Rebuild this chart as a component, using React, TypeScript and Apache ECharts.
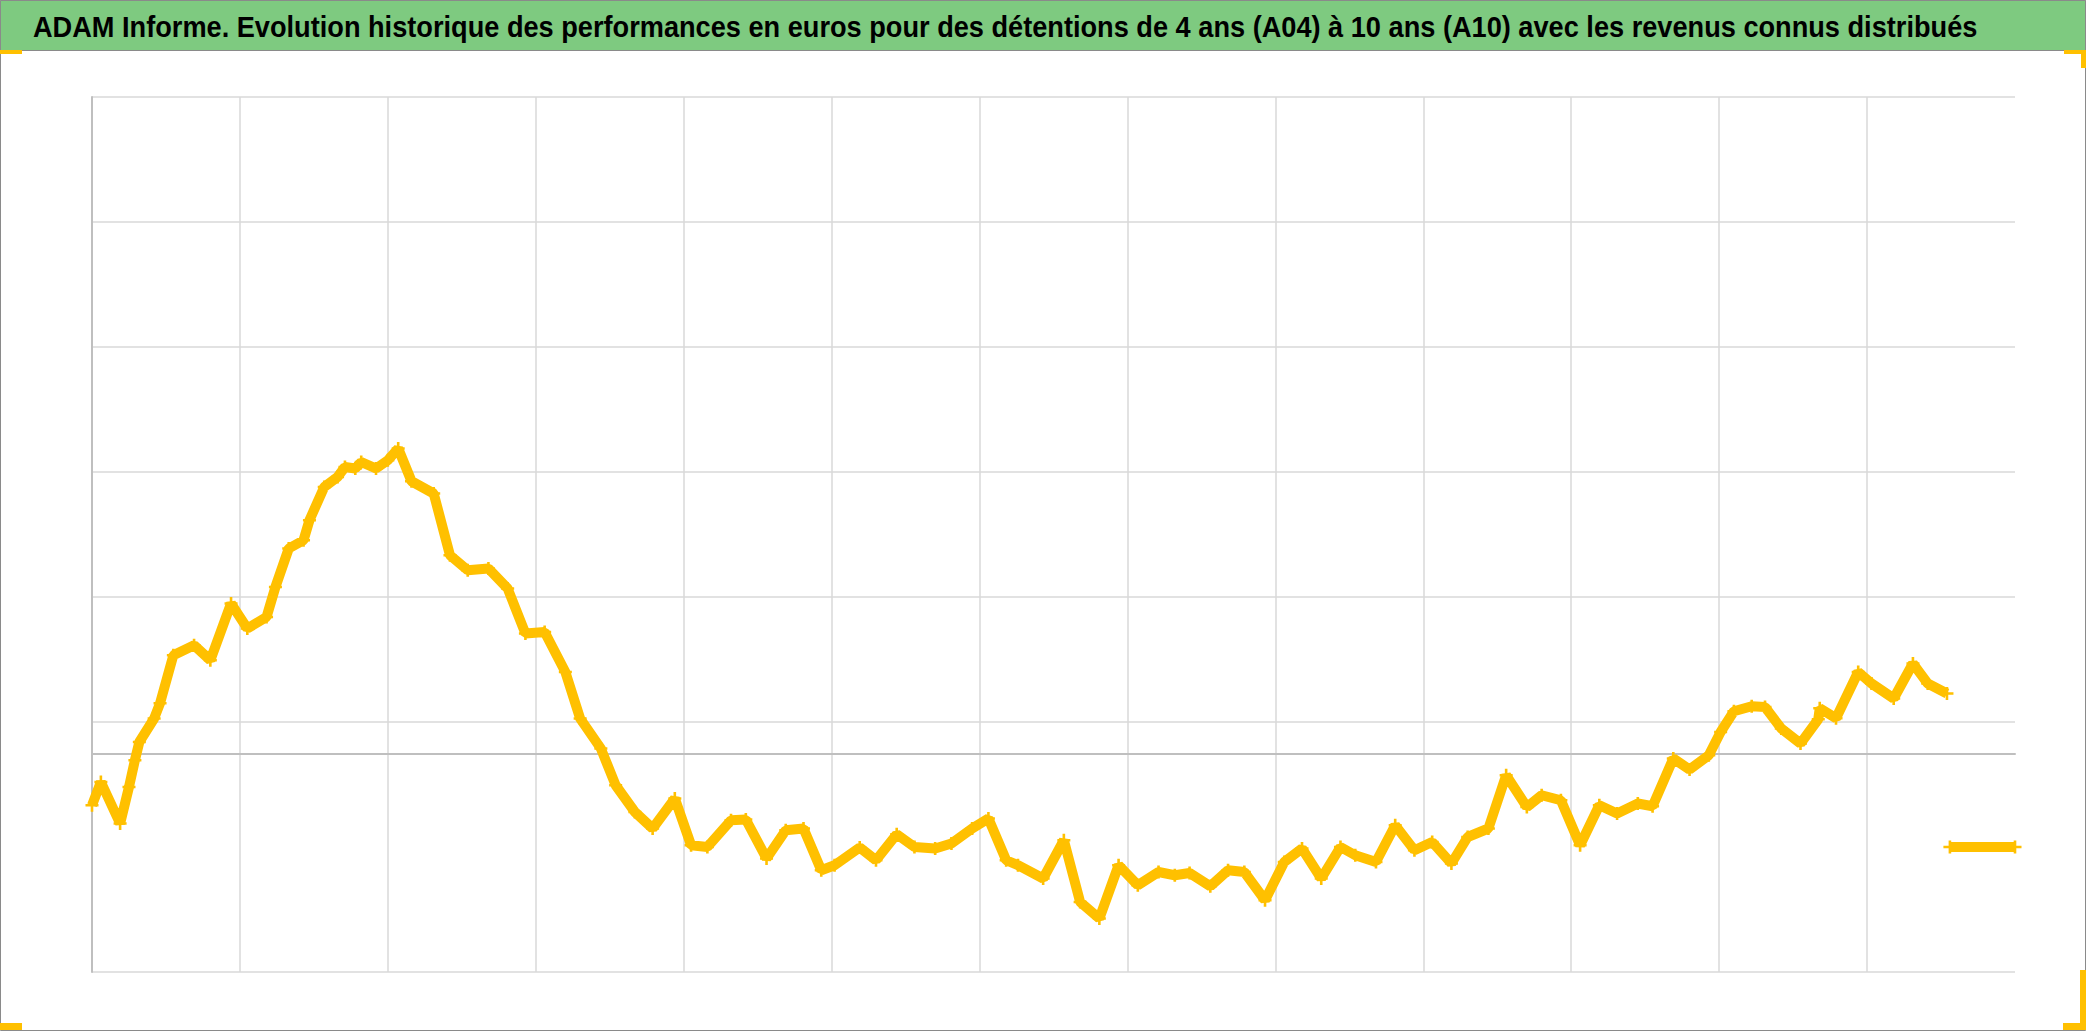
import React, { useEffect, useRef } from "react";
import * as echarts from "echarts";

const TITLE =
  "ADAM Informe. Evolution historique des performances en euros pour des détentions de 4 ans (A04) à 10 ans (A10) avec les revenus connus distribués";

// x position (period index) and performance value of each read point
const periodX = [
  0.0, 0.06, 0.19, 0.25, 0.29, 0.32, 0.42, 0.46, 0.55, 0.69, 0.8, 0.94, 1.05, 1.18, 1.24, 1.33, 1.43, 1.47, 1.57,
  1.66, 1.71, 1.78, 1.82, 1.92, 2.0, 2.07, 2.16, 2.31, 2.42, 2.54, 2.68, 2.81, 2.93, 3.06, 3.2, 3.3, 3.44, 3.54,
  3.67, 3.79, 3.94, 4.05, 4.16, 4.32, 4.42, 4.56, 4.69, 4.81, 4.93, 5.02, 5.19, 5.3, 5.44, 5.56, 5.7, 5.81, 5.95,
  6.06, 6.18, 6.26, 6.43, 6.57, 6.68, 6.81, 6.94, 7.07, 7.21, 7.32, 7.42, 7.56, 7.68, 7.79, 7.93, 8.06, 8.18, 8.31,
  8.44, 8.54, 8.68, 8.81, 8.94, 9.06, 9.19, 9.3, 9.44, 9.56, 9.7, 9.8, 9.93, 10.06, 10.19, 10.31, 10.45, 10.55,
  10.69, 10.8, 10.93, 11.01, 11.1, 11.22, 11.31, 11.42, 11.55, 11.67, 11.68, 11.79, 11.94, 12.03, 12.18, 12.31,
  12.41, 12.54,
];
const perfY = [
  -41.6, -23.0, -56.2, -27.0, -5.6, 9.0, 27.8, 40.0, 78.4, 86.4, 74.4, 119.8, 99.8, 109.0, 133.0, 163.8, 170.4,
  186.4, 213.0, 221.0, 229.0, 227.8, 233.0, 227.8, 234.4, 243.8, 217.6, 207.8, 158.4, 146.4, 147.8, 131.8, 95.8,
  97.0, 65.0, 27.8, 3.8, -25.6, -47.0, -60.2, -36.2, -73.6, -75.0, -53.6, -53.0, -84.2, -61.6, -60.2, -93.6, -89.6,
  -75.4, -85.6, -64.8, -75.0, -76.2, -72.2, -60.2, -52.2, -85.6, -89.6, -100.2, -69.6, -119.0, -132.2, -89.6,
  -105.6, -95.0, -97.6, -95.8, -106.4, -93.6, -95.0, -117.6, -87.0, -76.2, -100.2, -75.0, -81.6, -87.0, -57.6,
  -77.6, -71.0, -88.2, -67.0, -60.2, -17.6, -43.0, -33.6, -37.6, -73.6, -41.6, -48.2, -40.2, -42.4, -4.2, -13.0,
  -1.6, 17.0, 33.6, 37.6, 37.0, 19.8, 7.8, 27.2, 36.0, 28.0, 65.0, 55.8, 43.8, 71.8, 55.8, 47.8,
];

// flat trailing segment
const tailX = [12.56, 13.0];
const tailY = [-75, -75];

// value-axis ticks (no labels shown) and the one tick without a gridline
const yTicks = [-175, -75, 25, 125, 225, 325, 425, 525];
const hiddenGridTicks = [-75];
const xMin = 0;
const xMax = 13;

const GOLD = "#FFC000";
const PLUS = "path://M4,0L6,0L6,4L10,4L10,6L6,6L6,10L4,10L4,6L0,6L0,4L4,4Z";

const TITLE_FONT = 'bold 30px "Liberation Sans", Arial, sans-serif';
const TITLE_WIDTH = 1946;

export default function App() {
  const ref = useRef<HTMLDivElement>(null);

  useEffect(() => {
    document.body.style.margin = "0";
    const chart = echarts.init(ref.current!, undefined, { renderer: "svg" });
    const mainData = periodX.map((x, i) => [x, perfY[i]]);
    const tailData = tailX.map((x, i) => [x, tailY[i]]);
    const gridColors = yTicks.map((t) => (hiddenGridTicks.includes(t) ? "rgba(0,0,0,0)" : "#d9d9d9"));

    let titleScale = 0.8;
    const ctx = document.createElement("canvas").getContext("2d");
    if (ctx) {
      ctx.font = TITLE_FONT;
      const w = ctx.measureText(TITLE).width;
      if (w > 0) titleScale = TITLE_WIDTH / w;
    }

    const seriesStyle = {
      type: "line" as const,
      symbol: PLUS,
      symbolSize: 13,
      showAllSymbol: true,
      itemStyle: { color: GOLD },
      lineStyle: { color: GOLD, width: 10 },
      emphasis: { disabled: true },
      z: 3,
    };

    chart.setOption({
      animation: false,
      backgroundColor: "#ffffff",
      graphic: [
        {
          type: "rect",
          z: -10,
          shape: { x: 0.5, y: 0.5, width: 2085, height: 1030 },
          style: { fill: "#ffffff", stroke: "#8a8a8a", lineWidth: 1 },
        },
        {
          type: "rect",
          z: -9,
          shape: { x: 0.5, y: 0.5, width: 2085, height: 50 },
          style: { fill: "#7ECA80", stroke: "#8a8a8a", lineWidth: 1 },
        },
        {
          type: "text",
          z: 5,
          x: 33,
          y: 27,
          scaleX: titleScale,
          style: {
            text: TITLE,
            x: 0,
            y: 0,
            fontSize: 30,
            fontWeight: "bold",
            fontFamily: '"Liberation Sans", Arial, sans-serif',
            fill: "#000000",
            align: "left",
            verticalAlign: "middle",
          },
        },
        { type: "rect", z: 10, shape: { x: 0, y: 50, width: 22, height: 4 }, style: { fill: GOLD } },
        { type: "rect", z: 10, shape: { x: 2064, y: 50, width: 22, height: 4 }, style: { fill: GOLD } },
        { type: "rect", z: 10, shape: { x: 2081, y: 50, width: 5, height: 18 }, style: { fill: GOLD } },
        { type: "rect", z: 10, shape: { x: 0, y: 1023, width: 22, height: 7 }, style: { fill: GOLD } },
        { type: "rect", z: 10, shape: { x: 2063, y: 1023, width: 23, height: 7 }, style: { fill: GOLD } },
        { type: "rect", z: 10, shape: { x: 2080, y: 970, width: 6, height: 60 }, style: { fill: GOLD } },
      ],
      grid: { left: 92, top: 97, right: 71, bottom: 59, containLabel: false },
      xAxis: {
        type: "value",
        min: xMin,
        max: xMax,
        interval: 1,
        axisLabel: { show: false },
        axisTick: { show: false },
        axisLine: { show: true, onZero: true, lineStyle: { color: "#bfbfbf", width: 2 } },
        splitLine: { show: true, showMaxLine: false, lineStyle: { color: "#d9d9d9", width: 1.5 } },
      },
      yAxis: {
        type: "value",
        min: yTicks[0],
        max: yTicks[yTicks.length - 1],
        interval: yTicks[1] - yTicks[0],
        axisLabel: { show: false },
        axisTick: { show: false },
        axisLine: { show: true, lineStyle: { color: "#bfbfbf", width: 2 } },
        splitLine: { show: true, lineStyle: { color: gridColors, width: 1.5 } },
      },
      series: [
        { ...seriesStyle, name: "Performance", data: mainData },
        { ...seriesStyle, name: "Revenus", data: tailData },
      ],
    });
    return () => chart.dispose();
  }, []);

  return (
    <div
      ref={ref}
      style={{ position: "fixed", left: 0, top: 0, width: 2086, height: 1031 }}
    />
  );
}
